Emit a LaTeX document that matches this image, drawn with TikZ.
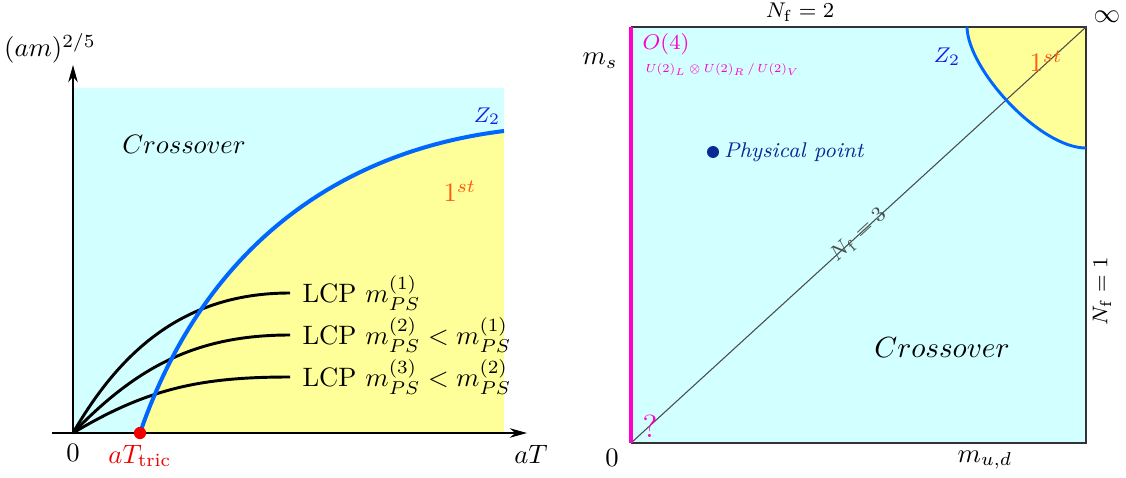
\documentclass[tikz,border=0pt]{standalone}
\usepackage{tikz}
\usetikzlibrary{arrows.meta,positioning}
\usepackage{amsmath}
\definecolor{Cross}{HTML}{D2FFFF}
\definecolor{First}{HTML}{FFFF99}
\definecolor{ZLine}{HTML}{0066FF}
\definecolor{ZText}{HTML}{1A1AF0}
\definecolor{Order}{HTML}{FF5A14}
\definecolor{Chiral}{HTML}{FF00CC}
\definecolor{Phys}{HTML}{0A2896}
\definecolor{Tric}{HTML}{F00000}

\begin{document}
\begin{tikzpicture}[x=0.0132cm,y=-0.0132cm,>={Stealth[length=6.5pt,width=3.6pt]},
  axis/.style={black,line width=0.5pt},
  lcpcurve/.style={black,line width=1.1pt},
  lcplabel/.style={anchor=west,inner sep=4.5pt},
  zcurve/.style={ZLine,line width=1.5pt},
  txt/.style={inner sep=0pt,anchor=base}]
\useasboundingbox (0,0) rectangle (1126,477);
% left panel: (am)^{2/5} versus aT
\coordinate (O) at (73,433);
\coordinate (tric) at (140,433);
\coordinate (zend) at (504,131);
\coordinate (xstart) at (52,433);
\coordinate (xtip) at (527,433);
\coordinate (ytip) at (73,65);
\fill[Cross] (73,88) rectangle (504,433);
\fill[First] (tric) .. controls (203,250) and (335,152) .. (zend) -- (504,433) -- cycle;
\draw[axis,->] (xstart) -- (xtip);
\draw[axis,->] (O) -- (ytip);
\node[lcplabel] (lcp1) at (290,293) {LCP $m_{PS}^{(1)}$};
\node[lcplabel] (lcp2) at (290,335) {LCP $m_{PS}^{(2)}<m_{PS}^{(1)}$};
\node[lcplabel] (lcp3) at (290,377) {LCP $m_{PS}^{(3)}<m_{PS}^{(2)}$};
\draw[lcpcurve] (O) to[out=60,in=180] (lcp1.west);
\draw[lcpcurve] (O) to[out=46,in=180] (lcp2.west);
\draw[lcpcurve] (O) to[out=31,in=180] (lcp3.west);
\draw[zcurve] (tric) .. controls (203,250) and (335,152) .. (zend);
\node[circle,fill=Tric,inner sep=0pt,minimum size=4.6pt] (tricdot) at (tric) {};
\node[txt] (ylab) at (50,57) {$(am)^{2/5}$};
\node[txt] (zero1) at (73,461) {$0$};
\node[txt,text=Tric] (triclab) at (140,463) {$aT_{\text{tric}}$};
\node[txt] (xlab) at (531,463) {$aT$};
\node[txt] (cross1) at (184,153) {$Crossover$};
\node[txt,text=ZText,font=\footnotesize] (z2a) at (487,122) {$Z_2$};
\node[txt,text=Order] (first1) at (460,202) {$1^{st}$};
% right panel: Columbia plot
\coordinate (sw) at (631,443);
\coordinate (se) at (1086,443);
\coordinate (ne) at (1086,27);
\coordinate (nw) at (631,27);
\coordinate (zs) at (967,27);
\coordinate (ze) at (1086,148);
\fill[Cross] (sw) rectangle (ne);
\fill[First] (zs) .. controls (968,70) and (1040,148) .. (ze) -- (ne) -- cycle;
\draw[black!80,line width=0.55pt] (nw) -- (ne) -- (se) -- (sw);
\draw[black!70,line width=0.4pt] (sw) -- node[pos=0.5,sloped,inner sep=0pt,font=\footnotesize] (nf3) {$N_{\mathrm{f}}=3$} (ne);
\draw[zcurve,line width=1.1pt] (zs) .. controls (968,70) and (1040,148) .. (ze);
\draw[Chiral,line width=1.3pt] (sw) -- (nw);
\node[txt,font=\footnotesize] (nf2) at (800,18) {$N_{\mathrm{f}}=2$};
\node[inner sep=0pt] (inf) at (1107,17) {$\infty$};
\node[txt] (ms) at (600,65) {$m_s$};
\node[txt,text=Chiral,font=\footnotesize] (o4) at (666,50) {$O(4)$};
\node[inner sep=0pt,anchor=base west,text=Chiral,font=\fontsize{6}{7}\selectfont] (u2) at (645,73) {\scalebox{0.74}{$U(2)_L\otimes U(2)_R\,/\,U(2)_V$}};
\node[circle,fill=Phys,inner sep=0pt,minimum size=4.5pt] (phys) at (713,152) {};
\node[right=1.5pt of phys,inner sep=0pt,text=Phys,font=\footnotesize\itshape] (physlab) {Physical point};
\node[txt,text=ZText,font=\footnotesize] (z2b) at (947,63) {$Z_2$};
\node[txt,text=Order] (first2) at (1046,72) {$1^{st}$};
\node[inner sep=0pt,rotate=90,font=\footnotesize] (nf1) at (1102,291) {$N_{\mathrm{f}}=1$};
\node[txt,font=\fontsize{11}{13}\selectfont] (cross2) at (942,357) {$Crossover$};
\node[txt] (zero2) at (612,466) {$0$};
\node[txt] (mud) at (985,462) {$m_{u,d}$};
\node[txt,text=Chiral,font=\large] (quest) at (650,437) {$?$};
\end{tikzpicture}
\end{document}
